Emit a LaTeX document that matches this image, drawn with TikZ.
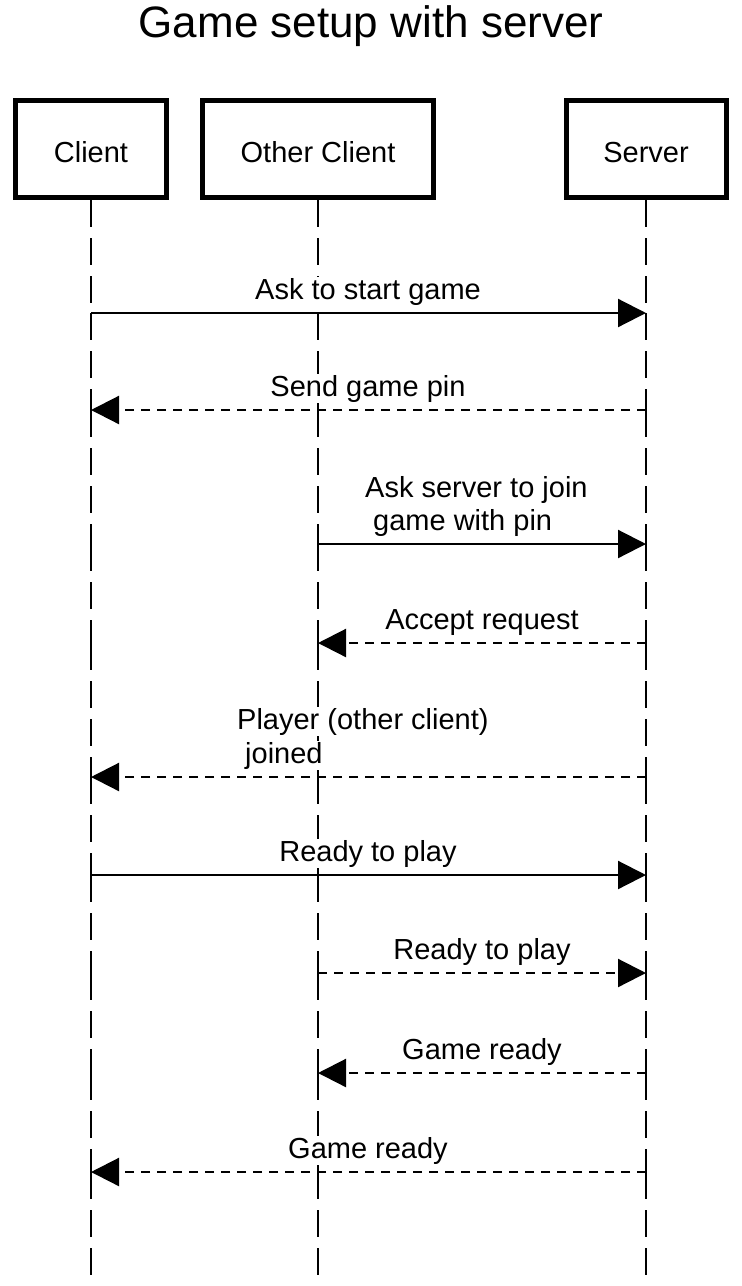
\documentclass[tikz,border=0pt]{standalone}
\usepackage{fontspec}
\setmainfont{Liberation Sans}
\usetikzlibrary{arrows.meta}
\begin{document}
\begin{tikzpicture}[x=1pt,y=-1pt,
  actor/.style={draw, line width=5pt, fill=white, inner sep=0pt, minimum height=97pt, text height=27pt, text depth=0pt, font=\fontsize{29}{33}\selectfont},
  life/.style={line width=2pt, dash pattern=on 27pt off 11pt},
  msg/.style={line width=2.2pt, -{Triangle[length=28pt,width=28pt]}},
  reply/.style={msg, dash pattern=on 9pt off 7pt},
  lbl/.style={font=\fontsize{29}{33}\selectfont, fill=white, inner sep=1pt, anchor=base},
  lblw/.style={lbl, anchor=base west}]
\useasboundingbox (0,0) rectangle (742,1286);
\node[font=\fontsize{44}{50}\selectfont, inner sep=0pt, anchor=base] (title) at (371,37) {Game setup with server};

\foreach \n/\x in {cl/91, oc/318, sv/646}{
  \foreach \i/\y in {1/313,2/410,3/544,4/643,5/777,6/875,7/973,8/1073,9/1172,10/1286}{
    \coordinate (\n-\i) at (\x,\y);
  }
}

\node[actor, minimum width=151pt] (cl) at (91,149) {Client};
\node[actor, minimum width=231pt] (oc) at (318,149) {Other Client};
\node[actor, minimum width=160pt] (sv) at (646,149) {Server};

\foreach \n in {cl,oc,sv}{
  \draw[life] (\n.south) -- (\n-1);
  \foreach \i [evaluate=\i as \j using int(\i+1)] in {1,...,9}{
    \draw[life] (\n-\i) -- (\n-\j);
  }
}

\draw[msg] (cl-1) -- (sv-1);
\node[lbl] (l1) at (368,299) {Ask to start game};
\draw[reply] (sv-2) -- (cl-2);
\node[lbl] (l2) at (368,396) {Send game pin};
\draw[msg] (oc-3) -- (sv-3);
\node[lblw] (l3a) at (364,497) {Ask server to join};
\node[lblw] (l3b) at (372,530) {game with pin};
\draw[reply] (sv-4) -- (oc-4);
\node[lbl] (l4) at (482,629) {Accept request};
\draw[reply] (sv-5) -- (cl-5);
\node[lblw] (l5a) at (236,729) {Player (other client)};
\node[lblw] (l5b) at (244,763) {joined};
\draw[msg] (cl-6) -- (sv-6);
\node[lbl] (l6) at (368,861) {Ready to play};
\draw[reply] (oc-7) -- (sv-7);
\node[lbl] (l7) at (482,959) {Ready to play};
\draw[reply] (sv-8) -- (oc-8);
\node[lbl] (l8) at (482,1059) {Game ready};
\draw[reply] (sv-9) -- (cl-9);
\node[lbl] (l9) at (368,1158) {Game ready};
\end{tikzpicture}
\end{document}
